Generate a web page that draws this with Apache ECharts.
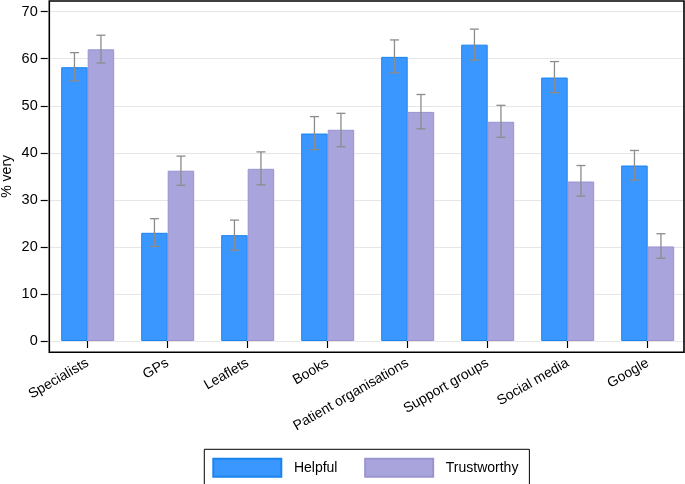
<!DOCTYPE html>
<html>
<head>
<meta charset="utf-8">
<script src="https://cdn.jsdelivr.net/npm/echarts@6/dist/echarts.min.js"></script>
<style>
  html, body { margin: 0; padding: 0; background: #fff; }
  #chart { width: 685px; height: 484px; }
</style>
</head>
<body>
<div id="chart"></div>
<script>
// sources and % rating them "very" helpful / trustworthy
const categories = ['Specialists', 'GPs', 'Leaflets', 'Books', 'Patient organisations',
  'Support groups', 'Social media', 'Google'];
const helpful = [58.2, 23.0, 22.5, 44.1, 60.4, 63.0, 56.0, 37.3];
const helpfulLow = [55.3, 20.1, 19.3, 40.7, 57.0, 59.7, 52.8, 34.2];
const helpfulHigh = [61.3, 26.0, 25.7, 47.7, 64.0, 66.3, 59.4, 40.5];
const trustworthy = [62.0, 36.2, 36.6, 44.9, 48.7, 46.6, 33.9, 20.1];
const trustLow = [59.1, 33.1, 33.2, 41.3, 45.1, 43.3, 30.8, 17.6];
const trustHigh = [65.0, 39.3, 40.2, 48.4, 52.4, 50.1, 37.3, 22.8];
const yTicks = [0, 10, 20, 30, 40, 50, 60, 70];

const BAR_W = 26.5;
const font = 'Liberation Sans, Arial, sans-serif';

// error bar data: [categoryIndex, low, high]
function ciData(low, high) {
  return categories.map((c, i) => [i, low[i], high[i]]);
}

// draws a capped whisker, shifted left/right of the category center
function errorBar(shift) {
  return function (params, api) {
    const i = api.value(0);
    const lo = api.coord([i, api.value(1)]);
    const hi = api.coord([i, api.value(2)]);
    const x = lo[0] + shift;
    const cap = 4.5;
    const style = { stroke: '#8c8c8c', lineWidth: 1.3 };
    return {
      type: 'group',
      children: [
        { type: 'line', shape: { x1: x, y1: hi[1], x2: x, y2: lo[1] }, style: style },
        { type: 'line', shape: { x1: x - cap, y1: hi[1], x2: x + cap, y2: hi[1] }, style: style },
        { type: 'line', shape: { x1: x - cap, y1: lo[1], x2: x + cap, y2: lo[1] }, style: style }
      ]
    };
  };
}

const chart = echarts.init(document.getElementById('chart'), null, { renderer: 'canvas' });

chart.setOption({
  animation: false,
  textStyle: { fontFamily: font },
  grid: {
    left: 47.7, right: -2.7, top: 11.7, bottom: 143,
    containLabel: false,
    outerBoundsMode: 'none'
  },
  legend: {
    data: ['Helpful', 'Trustworthy'],
    left: 204.3,
    top: 449.3,
    padding: [8.4, 11, 7.6, 8],
    itemGap: 26.7,
    itemWidth: 68,
    itemHeight: 18,
    borderColor: '#000',
    borderWidth: 1,
    icon: 'rect',
    textStyle: { fontSize: 14, color: '#000', fontFamily: font, padding: [0, 0, 0, 7.6] }
  },
  graphic: [{
    type: 'rect',
    z: 100,
    silent: true,
    shape: { x: 49.3, y: 1, width: 634.7, height: 351.3 },
    style: { fill: 'none', stroke: '#000', lineWidth: 1.6 }
  }],
  xAxis: {
    type: 'category',
    data: categories,
    offset: 11,
    axisLine: { show: false },
    axisTick: { show: true, length: 7, alignWithLabel: true, lineStyle: { color: '#000', width: 1.2 } },
    axisLabel: { rotate: 30, fontSize: 14, color: '#000', margin: 10, interval: 0, fontFamily: font }
  },
  yAxis: {
    type: 'value',
    min: yTicks[0],
    max: yTicks[yTicks.length - 1],
    interval: 10,
    name: '% very',
    nameLocation: 'middle',
    nameGap: 34,
    nameMoveOverlap: false,
    nameTextStyle: { fontSize: 14, color: '#000', fontFamily: font },
    axisLine: { show: false },
    axisTick: { show: true, length: 7, lineStyle: { color: '#000', width: 1.2 } },
    axisLabel: { fontSize: 14.5, color: '#000', margin: 10, fontFamily: font },
    splitLine: { show: true, lineStyle: { color: '#e6e6e6', width: 1.2 } }
  },
  series: [
    {
      name: 'Helpful',
      type: 'bar',
      data: helpful,
      barWidth: BAR_W,
      barGap: '0%',
      itemStyle: { color: '#3a97ff', borderColor: '#1a83f0', borderWidth: 1 }
    },
    {
      name: 'Trustworthy',
      type: 'bar',
      data: trustworthy,
      barWidth: BAR_W,
      barGap: '0%',
      itemStyle: { color: '#a9a5dc', borderColor: '#9993d0', borderWidth: 1 }
    },
    {
      type: 'custom',
      renderItem: errorBar(-BAR_W / 2),
      data: ciData(helpfulLow, helpfulHigh),
      encode: { x: 0, y: [1, 2] },
      z: 10,
      silent: true
    },
    {
      type: 'custom',
      renderItem: errorBar(BAR_W / 2),
      data: ciData(trustLow, trustHigh),
      encode: { x: 0, y: [1, 2] },
      z: 10,
      silent: true
    }
  ]
});

window.addEventListener('resize', () => chart.resize());
</script>
</body>
</html>
